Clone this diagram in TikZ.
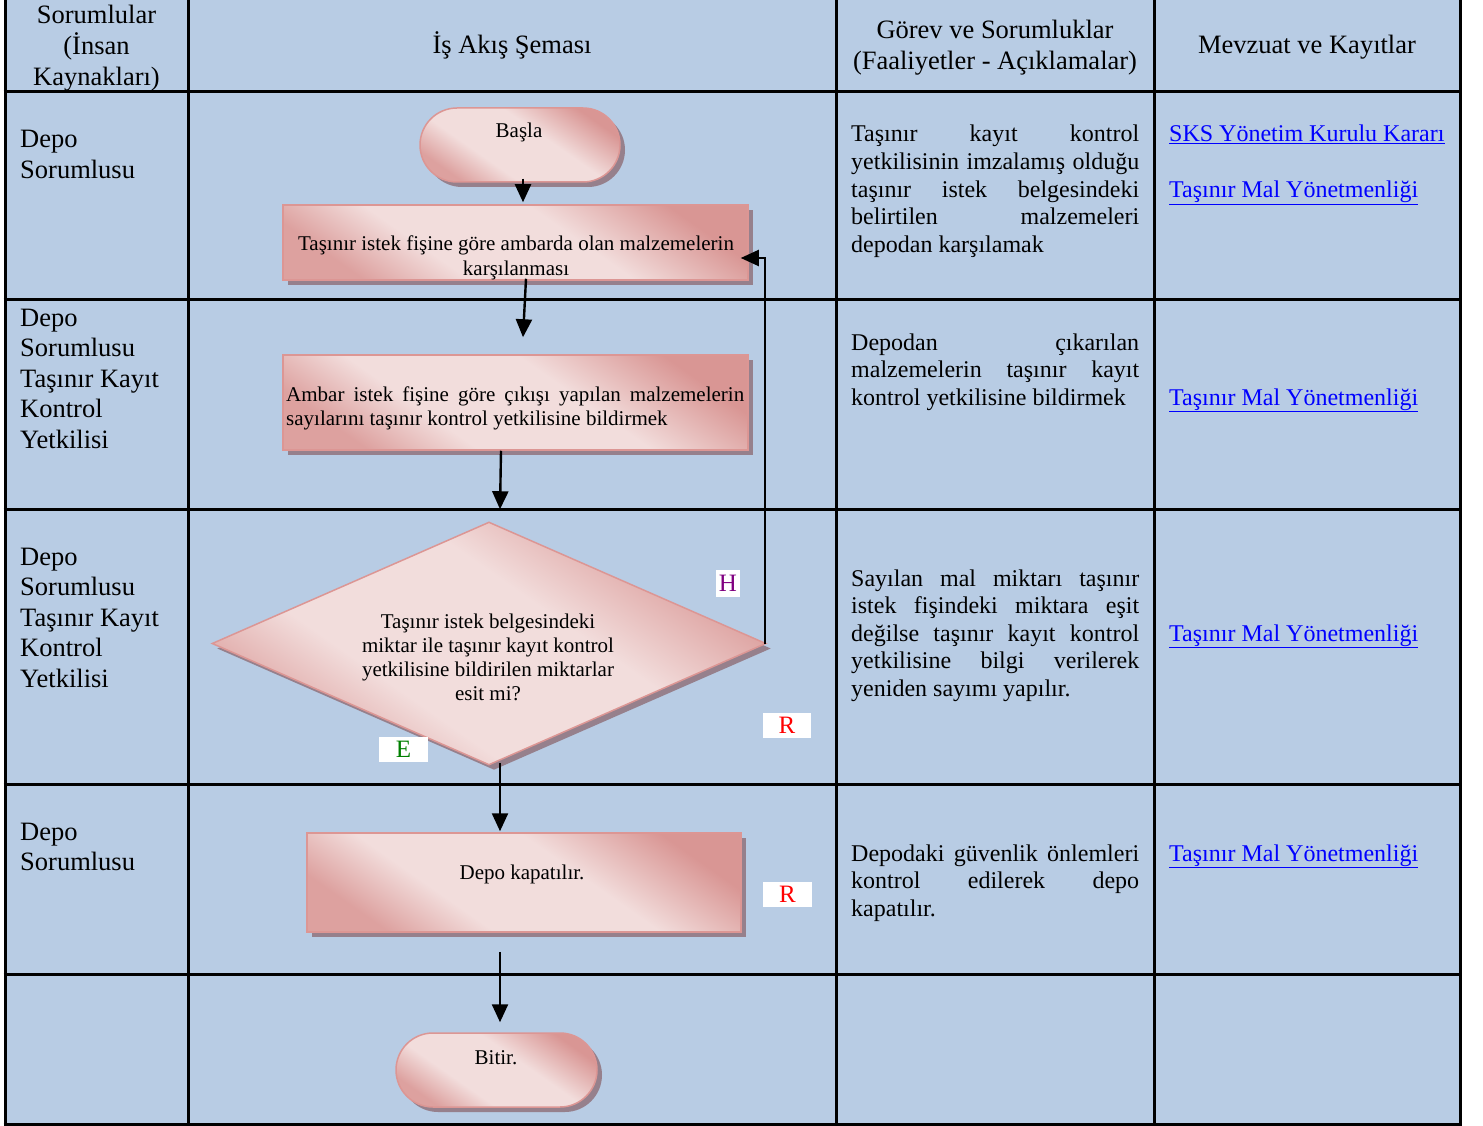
\documentclass[tikz,border=0pt]{standalone}
\usepackage{fontspec}
\setmainfont{Liberation Serif}
\usetikzlibrary{arrows.meta,shapes.geometric,shapes.misc,shadows}
\definecolor{bgblue}{RGB}{184,204,228}
\definecolor{pinkD}{RGB}{217,150,148}
\definecolor{pinkL}{RGB}{242,221,220}
\definecolor{pinkB}{RGB}{220,150,148}
\definecolor{shadowC}{RGB}{150,128,140}
\definecolor{linkB}{RGB}{0,0,255}
\definecolor{hPurple}{RGB}{128,0,128}
\definecolor{eGreen}{RGB}{0,128,0}
\definecolor{rRed}{RGB}{255,0,0}
\pgfdeclareverticalshading{pinkshade}{100bp}{color(0bp)=(pinkD!85!pinkL); color(25bp)=(pinkD!85!pinkL); color(38bp)=(pinkL); color(58bp)=(pinkL); color(75bp)=(pinkD); color(100bp)=(pinkD)}
\newcommand{\jl}[1]{\makebox[\linewidth][s]{#1}}
\newcommand{\lnk}[1]{\underline{#1}}
\begin{document}
\begin{tikzpicture}[x=1pt,y=-1pt,
  gridline/.style={line width=3pt},
  shp/.style={draw=pinkB, line width=1.5pt, shading=pinkshade, shading angle=-35,
    drop shadow={shadow xshift=5pt, shadow yshift=-5pt, fill=shadowC, opacity=1}, inner sep=0pt},
  procbox/.style={shp, rectangle},
  termbox/.style={shp, rounded rectangle},
  decbox/.style={shp, diamond},
  arr/.style={line width=2.4pt, -{Triangle[length=18pt,width=16pt]}},
  arrthin/.style={line width=2pt, -{Triangle[length=18pt,width=16pt]}},
  coltxt/.style={anchor=base west, inner sep=0pt, font=\fontsize{26.5}{30.6}\selectfont},
  hdtxt/.style={anchor=base, inner sep=0pt, font=\fontsize{26.5}{30.6}\selectfont},
  desctxt/.style={anchor=base west, inner sep=0pt, font=\fontsize{24}{27.6}\selectfont},
  linktxt/.style={anchor=base west, inner sep=0pt, text=linkB, font=\fontsize{24}{27.6}\selectfont},
  shptxt/.style={anchor=base, inner sep=0pt, font=\fontsize{21}{24.2}\selectfont},
  lettr/.style={fill=white, inner sep=0pt, font=\fontsize{25}{25}\selectfont}
]
\useasboundingbox (0,0) rectangle (1483,1126);
% table background
\fill[bgblue] (5,0) rectangle (1460,1124);
% grid
\foreach \gx in {5,188,836,1154,1460} \draw[gridline] (\gx,0) -- (\gx,1124);
\foreach \gy in {92,299,509,784,974,1124} \draw[gridline] (3.5,\gy) -- (1461.5,\gy);

% header
\node[hdtxt] (h1) at (96.5,24) {\parbox[t]{175pt}{\centering Sorumlular\\(İnsan\\Kaynakları)}};
\node[hdtxt] (h2) at (512,54) {İş Akış Şeması};
\node[hdtxt] (h3) at (995,39) {\parbox[t]{310pt}{\centering Görev ve Sorumluklar\\(Faaliyetler - Açıklamalar)}};
\node[hdtxt] (h4) at (1307,54) {Mevzuat ve Kayıtlar};

% column 1
\node[coltxt] (r1c1) at (20,148) {\parbox[t]{165pt}{Depo\\Sorumlusu}};
\node[coltxt] (r2c1) at (20,326) {\parbox[t]{165pt}{Depo\\Sorumlusu\\Taşınır Kayıt\\Kontrol\\Yetkilisi}};
\node[coltxt] (r3c1) at (20,565) {\parbox[t]{165pt}{Depo\\Sorumlusu\\Taşınır Kayıt\\Kontrol\\Yetkilisi}};
\node[coltxt] (r4c1) at (20,840) {\parbox[t]{165pt}{Depo\\Sorumlusu}};

% column 3
\node[desctxt] (r1c3) at (851,142) {\parbox[t]{288pt}{\jl{Taşınır kayıt kontrol}\\\jl{yetkilisinin imzalamış olduğu}\\\jl{taşınır istek belgesindeki}\\\jl{belirtilen malzemeleri}\\depodan karşılamak}};
\node[desctxt] (r2c3) at (851,350) {\parbox[t]{288pt}{\jl{Depodan çıkarılan}\\\jl{malzemelerin taşınır kayıt}\\kontrol yetkilisine bildirmek}};
\node[desctxt] (r3c3) at (851,586) {\parbox[t]{288pt}{\jl{Sayılan mal miktarı taşınır}\\\jl{istek fişindeki miktara eşit}\\\jl{değilse taşınır kayıt kontrol}\\\jl{yetkilisine bilgi verilerek}\\yeniden sayımı yapılır.}};
\node[desctxt] (r4c3) at (851,861) {\parbox[t]{288pt}{\jl{Depodaki güvenlik önlemleri}\\\jl{kontrol edilerek depo}\\kapatılır.}};

% column 4
\node[linktxt] (r1c4) at (1169,142) {\parbox[t]{290pt}{\lnk{SKS Yönetim Kurulu Kararı}\\[27.6pt]\lnk{Taşınır Mal Yönetmenliği}}};
\node[linktxt] (r2c4) at (1169,405) {\lnk{Taşınır Mal Yönetmenliği}};
\node[linktxt] (r3c4) at (1169,641) {\lnk{Taşınır Mal Yönetmenliği}};
\node[linktxt] (r4c4) at (1169,861) {\lnk{Taşınır Mal Yönetmenliği}};

% flowchart shapes
\node[termbox, minimum width=200pt, minimum height=74pt] (start) at (520,145) {};
\node[procbox, minimum width=465pt, minimum height=75pt] (box1) at (515.5,242.5) {};
\node[procbox, minimum width=465pt, minimum height=95pt] (box2) at (515.5,402.5) {};
\node[decbox, minimum width=554pt, minimum height=243pt] (dia) at (489,643.5) {};
\node[procbox, minimum width=434pt, minimum height=99pt] (box3) at (524,882.5) {};
\node[termbox, minimum width=201pt, minimum height=74pt] (bitir) at (496.5,1070) {};

% shape texts
\node[shptxt] (t0) at (519,138) {Başla};
\node[shptxt] (t1) at (516,251) {\parbox[t]{462pt}{\centering Taşınır istek fişine göre ambarda olan malzemelerin\\karşılanması}};
\node[shptxt, anchor=base west] (t2) at (286,401) {\parbox[t]{458pt}{\jl{Ambar istek fişine göre çıkışı yapılan malzemelerin}\\sayılarını taşınır kontrol yetkilisine bildirmek}};
\node[shptxt] (t3) at (488,628) {\parbox[t]{300pt}{\centering Taşınır istek belgesindeki\\miktar ile taşınır kayıt kontrol\\yetkilisine bildirilen miktarlar\\esit mi?}};
\node[shptxt] (t4) at (522,879) {Depo kapatılır.};
\node[shptxt] (t5) at (496,1064) {Bitir.};

% connectors
\coordinate (axA) at (523,0);
\coordinate (axB) at (500,0);
\draw[arr] ([yshift=4pt]start.south -| axA) -- ([yshift=2pt]box1.north -| axA);
\draw[arr] ([xshift=10.5pt,yshift=2pt]box1.south) -- ([xshift=7.5pt,yshift=17pt]box2.north);
\draw[arr] ([xshift=-14.5pt]box2.south) -- ([xshift=11pt,yshift=12pt]dia.north);
\draw[arr] ([yshift=3pt]dia.south -| axB) -- ([yshift=1pt]box3.north -| axB);
\draw[arr] ([yshift=-19pt]box3.south -| axB) -- ([yshift=10pt]bitir.north -| axB);
\draw[arrthin] ([xshift=-2pt]dia.east) |- ([xshift=-8pt,yshift=-15.5pt]box1.east);

% branch labels
\node[lettr, text=hPurple, minimum width=24pt, minimum height=27pt] (lh) at (728,583.5) {H};
\node[lettr, text=eGreen, minimum width=49pt, minimum height=25pt] (le) at (403.5,749.5) {E};
\node[lettr, text=rRed, minimum width=48pt, minimum height=25pt] (lr1) at (787,725.5) {R};
\node[lettr, text=rRed, minimum width=49pt, minimum height=25pt] (lr2) at (787.5,894.5) {R};
\end{tikzpicture}
\end{document}
